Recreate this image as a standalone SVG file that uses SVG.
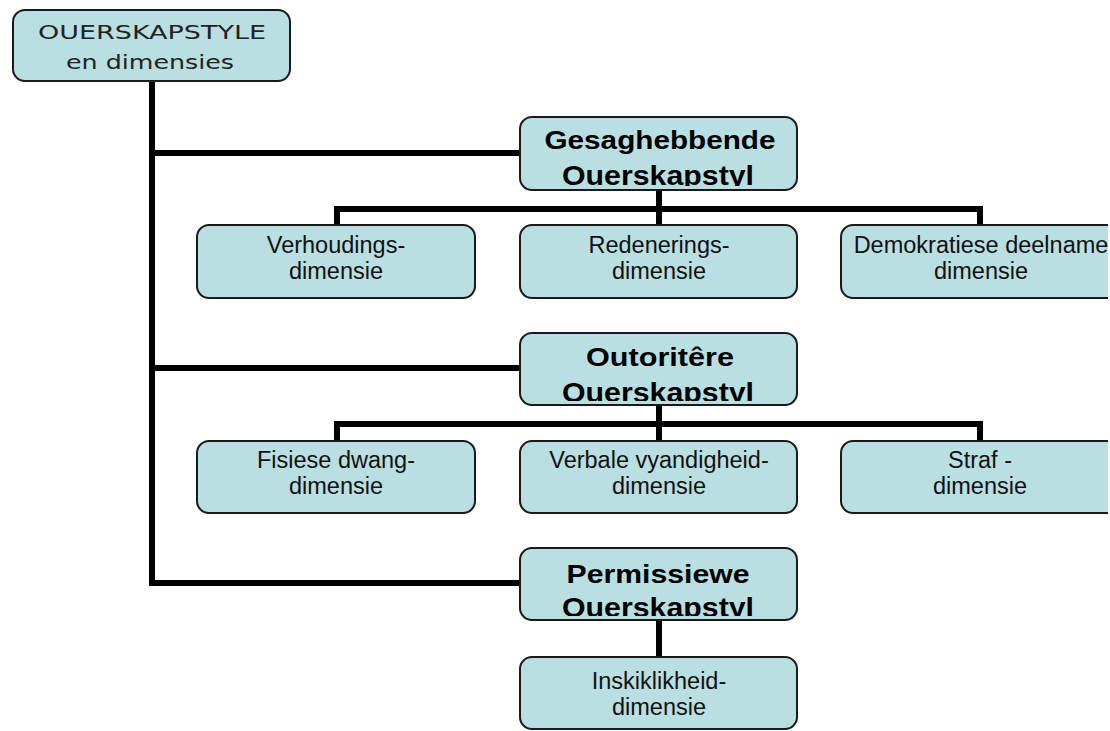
<svg xmlns="http://www.w3.org/2000/svg" width="1110" height="731" viewBox="0 0 1110 731">
<style>
.box{fill:#badfe2;stroke:#1a1a1a;stroke-width:2}
.con{fill:none;stroke:#000;stroke-width:6;stroke-linejoin:miter;stroke-linecap:butt}
.t{font-family:"Liberation Sans",Arial,sans-serif;font-size:23.5px;fill:#111;text-anchor:middle}
.b{font-family:"Liberation Sans",Arial,sans-serif;font-size:25.5px;font-weight:bold;fill:#000;text-anchor:middle}
.b2{font-family:"Liberation Sans",Arial,sans-serif;font-size:28px;font-weight:bold;fill:#000;text-anchor:middle}
.top{font-family:"DejaVu Sans",Verdana,sans-serif;font-size:20px;fill:#222;text-anchor:middle}
</style>
<defs>
<clipPath id="page"><rect x="0" y="0" width="1108" height="731"/></clipPath>
<clipPath id="cg"><rect x="520" y="117" width="277" height="69"/></clipPath>
<clipPath id="co"><rect x="520" y="333" width="277" height="68"/></clipPath>
<clipPath id="cp"><rect x="520" y="548" width="277" height="68"/></clipPath>
</defs>
<rect width="1110" height="731" fill="#fff"/>
<g clip-path="url(#page)">
<g id="connectors">
<path class="con" d="M152,80 V583 H520"/>
<path class="con" d="M152,153 H520"/>
<path class="con" d="M152,368 H520"/>
<path class="con" d="M659,190 V225"/>
<path class="con" d="M337,225 V209 H980 V225"/>
<path class="con" d="M659,405 V441"/>
<path class="con" d="M337,441 V424 H980 V441"/>
<path class="con" d="M659,620 V657"/>
</g>
<g id="root">
<rect class="box" x="13" y="10" width="277" height="71" rx="12"/>
<text class="top" x="152" y="39" textLength="228" lengthAdjust="spacingAndGlyphs">OUERSKAPSTYLE</text>
<text class="top" x="150" y="69" textLength="168" lengthAdjust="spacingAndGlyphs">en dimensies</text>
</g>
<g id="gesaghebbende">
<rect class="box" x="520" y="117" width="277" height="73" rx="12"/>
<g clip-path="url(#cg)">
<text class="b" x="660" y="148.5" textLength="231" lengthAdjust="spacingAndGlyphs">Gesaghebbende</text>
<text class="b2" x="658" y="185" textLength="192" lengthAdjust="spacingAndGlyphs">Ouerskapstyl</text>
</g>
</g>
<g id="verhoudings">
<rect class="box" x="197" y="225" width="278" height="73" rx="12"/>
<text class="t" x="336" y="252.5">Verhoudings-</text>
<text class="t" x="336" y="278.5">dimensie</text>
</g>
<g id="redenerings">
<rect class="box" x="520" y="225" width="277" height="73" rx="12"/>
<text class="t" x="659" y="252.5">Redenerings-</text>
<text class="t" x="659" y="278.5">dimensie</text>
</g>
<g id="demokratiese">
<rect class="box" x="841" y="225" width="278" height="73" rx="12"/>
<text class="t" x="981" y="252.5">Demokratiese deelname</text>
<text class="t" x="981" y="278.5">dimensie</text>
</g>
<g id="outoritere">
<rect class="box" x="520" y="333" width="277" height="72" rx="12"/>
<g clip-path="url(#co)">
<text class="b" x="660" y="365.5" textLength="148" lengthAdjust="spacingAndGlyphs">Outoritêre</text>
<text class="b2" x="658" y="402" textLength="192" lengthAdjust="spacingAndGlyphs">Ouerskapstyl</text>
</g>
</g>
<g id="fisiese">
<rect class="box" x="197" y="441" width="278" height="72" rx="12"/>
<text class="t" x="336" y="468">Fisiese dwang-</text>
<text class="t" x="336" y="494">dimensie</text>
</g>
<g id="verbale">
<rect class="box" x="520" y="441" width="277" height="72" rx="12"/>
<text class="t" x="659" y="468">Verbale vyandigheid-</text>
<text class="t" x="659" y="494">dimensie</text>
</g>
<g id="straf">
<rect class="box" x="841" y="441" width="278" height="72" rx="12"/>
<text class="t" x="980" y="468">Straf -</text>
<text class="t" x="980" y="494">dimensie</text>
</g>
<g id="permissiewe">
<rect class="box" x="520" y="548" width="277" height="72" rx="12"/>
<g clip-path="url(#cp)">
<text class="b" x="658" y="583" textLength="183" lengthAdjust="spacingAndGlyphs">Permissiewe</text>
<text class="b2" x="658" y="617" textLength="192" lengthAdjust="spacingAndGlyphs">Ouerskapstyl</text>
</g>
</g>
<g id="inskiklikheid">
<rect class="box" x="520" y="657" width="277" height="72" rx="12"/>
<text class="t" x="659" y="689">Inskiklikheid-</text>
<text class="t" x="659" y="715">dimensie</text>
</g>
</g>
</svg>
